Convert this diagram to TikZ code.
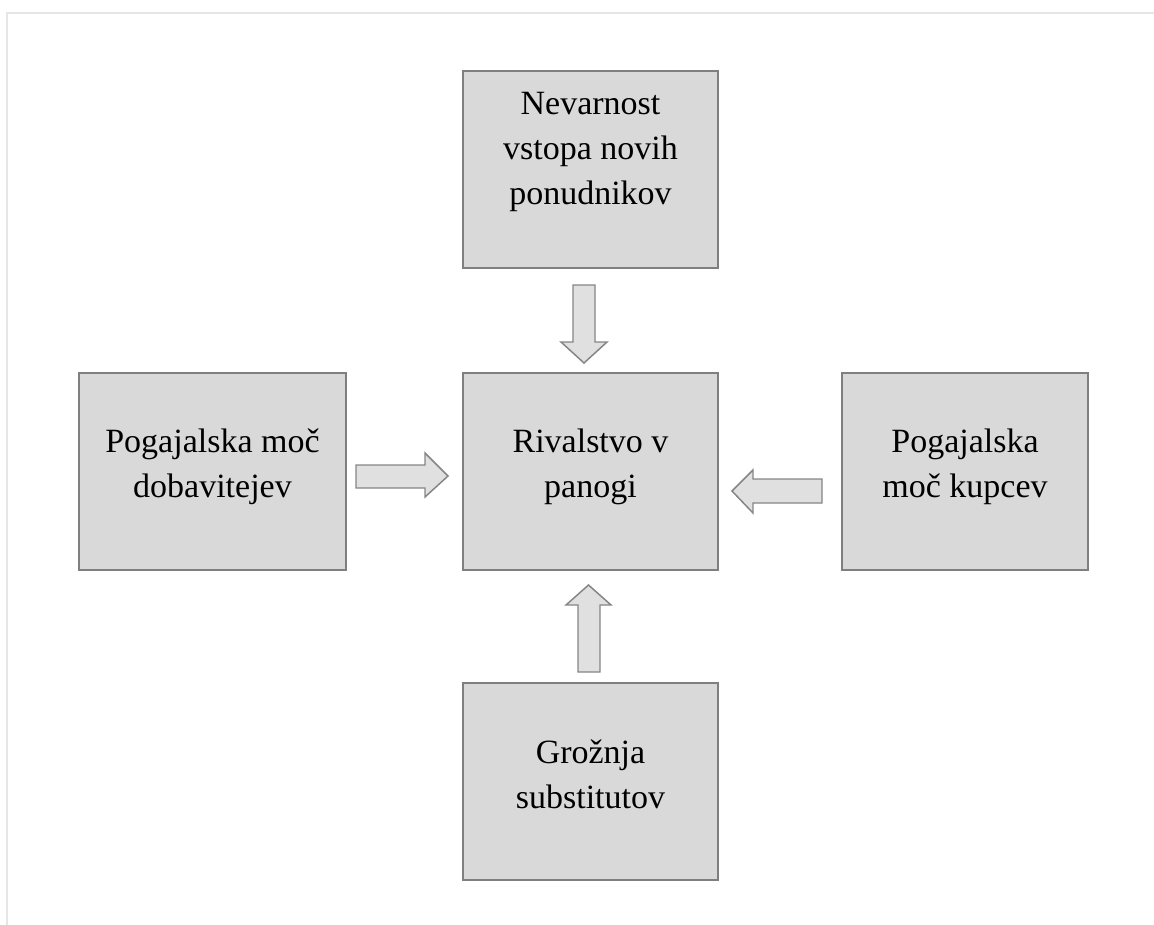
\documentclass[tikz,border=0pt]{standalone}
\usepackage{fontspec}
\setmainfont{Liberation Serif}
\definecolor{boxfill}{HTML}{D9D9D9}
\definecolor{boxline}{HTML}{7F7F7F}
\definecolor{arrfill}{HTML}{E0E0E0}
\definecolor{arrline}{HTML}{858585}
\definecolor{frameline}{HTML}{E6E6E6}
\begin{document}
\begin{tikzpicture}[x=0.75pt,y=-0.75pt,
  forcebox/.style={draw=boxline, fill=boxfill, line width=1.8pt, rectangle,
    inner sep=0pt, minimum height=147.75pt},
  forcetext/.style={align=center, inner sep=0pt, font=\fontsize{25.5}{34}\selectfont},
  blockarrow/.style={draw=arrline, fill=arrfill, line width=1.1pt, line join=miter}]
\useasboundingbox (0,0) rectangle (1154,925);
% page frame
\draw[frameline, line width=1.5pt] (1154,13) -- (7,13) -- (7,925);
% the five forces
\node[forcebox, minimum width=191.25pt] (entrybox) at (590.5,169.5) {};
\node[forcetext] (entry) at (590.5,152) {Nevarnost\\vstopa novih\\ponudnikov};
\node[forcebox, minimum width=191.25pt] (rivalrybox) at (590.5,471.5) {};
\node[forcetext] (rivalry) at (590.5,467) {Rivalstvo v\\panogi};
\node[forcebox, minimum width=200.25pt] (suppliersbox) at (212.5,471.5) {};
\node[forcetext] (suppliers) at (212.5,467) {Pogajalska moč\\dobavitejev};
\node[forcebox, minimum width=184.5pt] (buyersbox) at (965,471.5) {};
\node[forcetext] (buyers) at (965,467) {Pogajalska\\moč kupcev};
\node[forcebox, minimum width=191.25pt] (substitutesbox) at (590.5,781.5) {};
\node[forcetext] (substitutes) at (590.5,774) {Grožnja\\substitutov};
% block arrows towards the centre
\draw[blockarrow] (573,285) -- (595,285) -- (595,342) -- (607,342) -- (584,363)
  -- (561,342) -- (573,342) -- cycle;
\draw[blockarrow] (356,465) -- (425,465) -- (425,453) -- (448,476) -- (425,497)
  -- (425,488) -- (356,488) -- cycle;
\draw[blockarrow] (822,479) -- (753,479) -- (753,470) -- (732,491) -- (753,513)
  -- (753,503) -- (822,503) -- cycle;
\draw[blockarrow] (578,672) -- (578,605) -- (566,605) -- (588.5,585) -- (611,605)
  -- (600,605) -- (600,672) -- cycle;
\end{tikzpicture}
\end{document}
